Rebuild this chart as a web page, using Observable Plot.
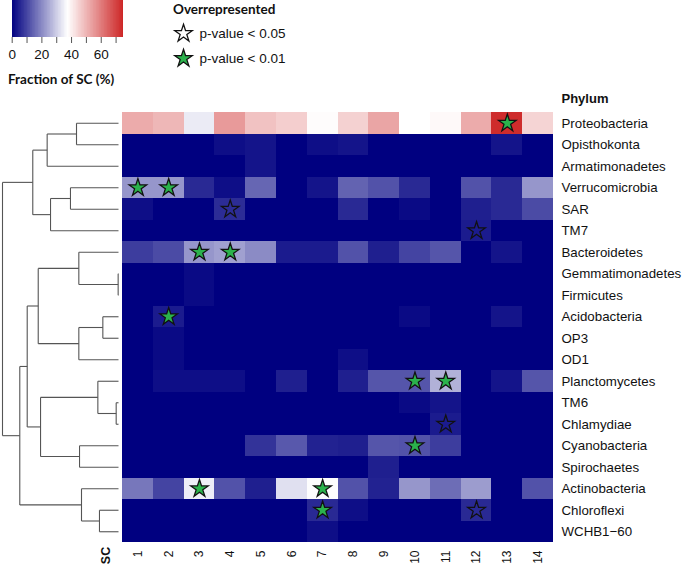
<!DOCTYPE html>
<html><head><meta charset="utf-8">
<script src="https://cdn.jsdelivr.net/npm/d3@7"></script>
<script src="https://cdn.jsdelivr.net/npm/@observablehq/plot@0.6"></script>
<style>
body{margin:0;background:#fff;}
#wrap{position:relative;width:685px;height:567px;overflow:hidden;font-family:"Liberation Sans",Arial,sans-serif;}
#wrap > *{position:absolute;}
.lbl{font-family:Lato,"Open Sans",sans-serif;font-weight:bold;font-size:13.5px;color:#111;white-space:nowrap;}
</style></head><body><div id="wrap"></div>
<script>
// ---- data ----
const phyla = ["Proteobacteria","Opisthokonta","Armatimonadetes","Verrucomicrobia","SAR","TM7","Bacteroidetes","Gemmatimonadetes","Firmicutes","Acidobacteria","OP3","OD1","Planctomycetes","TM6","Chlamydiae","Cyanobacteria","Spirochaetes","Actinobacteria","Chloroflexi","WCHB1\u221260"];
const sc = ["1","2","3","4","5","6","7","8","9","10","11","12","13","14"];
// fraction of SC (%) per phylum row, SC columns 1..14
const fraction = [
  [52, 50, 34.5, 55, 48, 46, 38, 45.5, 53, 37.5, 38.5, 52, 74, 45],
  [0, 0, 0, 2, 3, 0, 2, 3, 0, 0, 0, 0, 3, 0],
  [0, 0, 0, 0, 3, 0, 0, 0, 0, 0, 0, 0, 0, 0],
  [22, 22, 6, 2, 15, 0, 3, 14.5, 12, 6, 0, 12, 6, 22],
  [2, 0, 0, 6.5, 0, 0, 0, 6, 0, 1.5, 0, 4.5, 6, 11],
  [0, 0, 0, 0, 0, 0, 0, 0, 0, 0, 0, 4, 0, 0],
  [9, 11, 22, 23.5, 20.5, 4, 4, 12, 4.5, 10, 12.5, 0, 3, 0],
  [0, 0, 1.5, 0, 0, 0, 0, 0, 0, 0, 0, 0, 0, 0],
  [0, 0, 1.5, 0, 0, 0, 0, 0, 0, 0, 0, 0, 0, 0],
  [0, 4, 0, 0, 0, 0, 0, 0, 0, 1.5, 0, 0, 3, 0],
  [0, 1.5, 0, 0, 0, 0, 0, 0, 0, 0, 0, 0, 0, 0],
  [0, 1.5, 0, 0, 0, 0, 0, 2, 0, 0, 0, 0, 0, 0],
  [0, 2, 2, 2, 0, 4.5, 0, 4.5, 12.5, 12.5, 26, 0, 3, 12.5],
  [0, 0, 0, 0, 0, 0, 0, 0, 0, 1.5, 3, 0, 0, 0],
  [0, 0, 0, 0, 0, 0, 0, 0, 0, 0, 4, 0, 0, 0],
  [0, 0, 0, 0, 7.5, 13, 5, 4.5, 12.5, 12, 9, 0, 0, 0],
  [0, 0, 0, 0, 0, 0, 0, 0, 4.5, 0, 0, 0, 0, 0],
  [17.5, 10, 35, 12, 4.5, 33, 37, 12, 5, 22, 16, 23, 0, 12],
  [0, 0, 0, 0, 0, 0, 6, 2, 0, 0, 0, 6, 0, 0],
  [0, 0, 0, 0, 0, 0, 2, 0, 0, 0, 0, 0, 0, 0]
];
// overrepresented cells [phylum, SC]
const sig01 = [["Proteobacteria","13"],["Verrucomicrobia","1"],["Verrucomicrobia","2"],["Bacteroidetes","3"],["Bacteroidetes","4"],["Acidobacteria","2"],["Planctomycetes","10"],["Planctomycetes","11"],["Cyanobacteria","10"],["Actinobacteria","3"],["Actinobacteria","7"],["Chloroflexi","7"]];
const sig05 = [["SAR","4"],["TM7","12"],["Chlamydiae","11"],["Chloroflexi","12"]];
// dendrogram (hclust style: negative = leaf row index, positive = earlier merge)
const mergeA = [-8, -14, -10, -19, -13, -18, -16, -7, 3, -1, -4, 11, 10, 5, 8, 13, 15, 17, 16];
const mergeB = [-9, -15, -11, -20, 2, 4, -17, 1, -12, -2, -5, -6, -3, 7, 9, 12, 14, 6, 18];
const mergeH = [0.3, 2, 13.5, 16.4, 17.8, 31.9, 33.6, 34.2, 34.2, 36.2, 41.4, 58.6, 61.5, 67.2, 69.2, 73.9, 78.7, 85.1, 100];
const legendTicks = [0, 10, 20, 30, 40, 50, 60, 70];
const legendLabels = ["p-value < 0.05", "p-value < 0.01"];

// ---- build ----
const wrap = document.getElementById("wrap");
const font = "'Liberation Sans', Arial, sans-serif";
const colorOpts = {type: "linear", domain: [0, 37.5, 75], range: ["#000080", "#ffffff", "#cd2626"], interpolate: "rgb"};
const green = "#2bb24c";

const cells = phyla.flatMap((p, i) => sc.map((s, j) => ({phylum: p, sc: s, value: fraction[i][j]})));
const toObj = ([p, s]) => ({phylum: p, sc: s});

const main = Plot.plot({
  width: 685, height: 567,
  marginLeft: 122, marginRight: 132, marginTop: 112, marginBottom: 25,
  style: {background: "transparent", fontFamily: font, color: "#111"},
  x: {domain: sc, padding: 0, round: false, axis: null},
  y: {domain: phyla, padding: 0, round: false, axis: null},
  color: colorOpts,
  marks: [
    Plot.cell(cells, {x: "sc", y: "phylum", fill: "value", shapeRendering: "crispEdges"}),
    Plot.dot(sig05.map(toObj), {x: "sc", y: "phylum", symbol: "star", r: 5.5, fill: "none", stroke: "#111", strokeWidth: 1.3}),
    Plot.dot(sig01.map(toObj), {x: "sc", y: "phylum", symbol: "star", r: 5.5, fill: green, stroke: "#111", strokeWidth: 1.3}),
    Plot.axisX({anchor: "bottom", tickSize: 0, tickPadding: 8, tickRotate: -90, fontSize: 12, label: null}),
    Plot.axisY({anchor: "right", tickSize: 0, tickPadding: 8, fontSize: 13.3, label: null}),
    Plot.text(["SC"], {frameAnchor: "bottom-left", dx: -17, dy: 13, rotate: -90, textAnchor: "middle", lineAnchor: "middle", fontWeight: "bold", fontSize: 12.5}),
    Plot.text(["Phylum"], {frameAnchor: "top-right", dx: 8, dy: -14, textAnchor: "start", lineAnchor: "middle", fontWeight: "bold", fontSize: 13})
  ]
});
main.style.left = "0px"; main.style.top = "0px";
wrap.appendChild(main);

// dendrogram
const nodeY = [], nodeH = [];
const pos = id => id < 0 ? {y: -id - 1, h: 0} : {y: nodeY[id - 1], h: nodeH[id - 1]};
const segs = [];
mergeA.forEach((a, k) => {
  const b = mergeB[k], h = mergeH[k];
  const pa = pos(a), pb = pos(b);
  segs.push({x1: pa.h, y1: pa.y, x2: h, y2: pa.y});
  segs.push({x1: pb.h, y1: pb.y, x2: h, y2: pb.y});
  segs.push({x1: h, y1: pa.y, x2: h, y2: pb.y});
  nodeY.push((pa.y + pb.y) / 2); nodeH.push(h);
});
const dendro = Plot.plot({
  width: 125, height: 567,
  marginLeft: 2, marginRight: 7, marginTop: 112, marginBottom: 25,
  style: {background: "transparent"},
  x: {domain: [100, 0], axis: null},
  y: {domain: [phyla.length - 0.5, -0.5], axis: null},
  marks: [
    Plot.link(segs, {x1: "x1", y1: "y1", x2: "x2", y2: "y2", stroke: "#555", strokeWidth: 1.1})
  ]
});
dendro.style.left = "0px"; dendro.style.top = "0px";
wrap.appendChild(dendro);

// colour legend
const ramp = d3.range(0, 75, 0.5);
const legend = Plot.plot({
  width: 140, height: 64,
  marginLeft: 11.7, marginRight: 17, marginTop: 0, marginBottom: 27,
  style: {background: "transparent", fontFamily: font, color: "#111"},
  x: {domain: [0, 75], axis: null},
  color: colorOpts,
  marks: [
    Plot.rect(ramp, {x1: d => d, x2: d => d + 0.5, fill: d => d + 0.25, shapeRendering: "crispEdges"}),
    Plot.axisX(legendTicks, {anchor: "bottom", tickSize: 6, tickPadding: 6, stroke: "#555", tickFormat: d => d % 20 === 0 ? String(d) : "", fontSize: 13.5, label: null})
  ]
});
legend.style.left = "0px"; legend.style.top = "0px";
wrap.appendChild(legend);
const lt = document.createElement("div");
lt.className = "lbl"; lt.textContent = "Fraction of SC (%)";
lt.style.left = "8px"; lt.style.top = "71px";
wrap.appendChild(lt);

// star legend
const sigLegend = Plot.plot({
  width: 140, height: 75,
  marginLeft: 23, marginRight: 0, marginTop: 0, marginBottom: 0,
  style: {background: "transparent", fontFamily: font, color: "#111"},
  y: {type: "point", domain: legendLabels, range: [33, 58], padding: 0, axis: null},
  marks: [
    Plot.dot(legendLabels, {y: d => d, frameAnchor: "left", symbol: "star", r: 5.5, fill: (d, i) => i === 0 ? "none" : green, stroke: "#111", strokeWidth: 1.3}),
    Plot.text(legendLabels, {y: d => d, frameAnchor: "left", dx: 16, textAnchor: "start", fontSize: 13.5})
  ]
});
sigLegend.style.left = "160px"; sigLegend.style.top = "0px";
wrap.appendChild(sigLegend);
const ot = document.createElement("div");
ot.className = "lbl"; ot.textContent = "Overrepresented";
ot.style.left = "173px"; ot.style.top = "1px";
wrap.appendChild(ot);
</script>
</body></html>
